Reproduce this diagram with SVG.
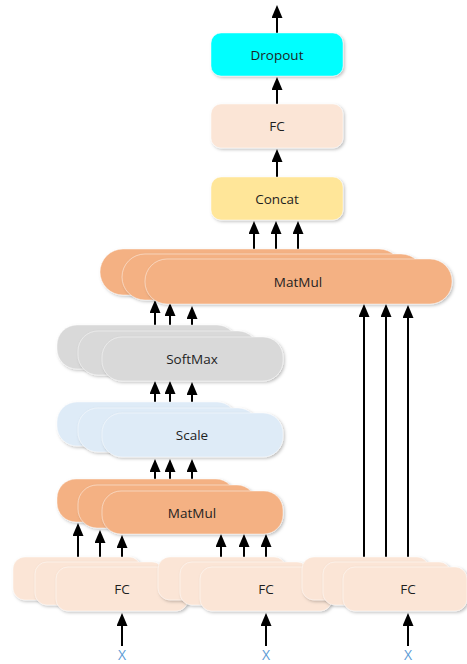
<svg xmlns="http://www.w3.org/2000/svg" width="467" height="664" viewBox="0 0 467 664">
  <defs>
    <marker id="arrow" viewBox="0 0 13 11" refX="1" refY="5.5" markerWidth="13" markerHeight="11" markerUnits="userSpaceOnUse" orient="auto">
      <path d="M0,0 L13,5.5 L0,11 z" fill="#000"/>
    </marker>
    <filter id="shadow" x="-10%" y="-20%" width="125%" height="150%">
      <feDropShadow dx="1.5" dy="1.5" stdDeviation="1.5" flood-color="#000" flood-opacity="0.25"/>
    </filter>
  </defs>
  <style>
    .box { filter: url(#shadow); stroke: #ffffff; stroke-opacity: 0.45; stroke-width: 1; }
    .dropout { fill: #00FFFF; }
    .fc { fill: #FBE5D6; }
    .concat { fill: #FFE699; }
    .matmul { fill: #F4B183; }
    .softmax { fill: #D9D9D9; }
    .scale { fill: #DEEBF7; }
    .label { font-family: "Open Sans", "Noto Sans", sans-serif; font-size: 13.5px; fill: #1f1f1f; text-anchor: middle; dominant-baseline: central; }
    .input { font-family: "Open Sans", "Noto Sans", sans-serif; font-size: 14px; fill: #5B9BD5; text-anchor: middle; }
    .edge { stroke: #000; stroke-width: 2; fill: none; marker-end: url(#arrow); }
  </style>

  <!-- connectors (line end sits 12px below each arrow tip) -->
  <g id="connectors">
    <path class="edge" d="M277,33 V17"/>
    <path class="edge" d="M277,104 V89"/>
    <path class="edge" d="M277,177 V161"/>
    <path class="edge" d="M254,249 V233"/>
    <path class="edge" d="M276,254 V233"/>
    <path class="edge" d="M298,259 V233"/>
    <path class="edge" d="M155,325 V312"/>
    <path class="edge" d="M170,331 V315"/>
    <path class="edge" d="M192,337 V318"/>
    <path class="edge" d="M155,402 V393"/>
    <path class="edge" d="M170,408 V393"/>
    <path class="edge" d="M192,413 V394"/>
    <path class="edge" d="M155,479 V471"/>
    <path class="edge" d="M170,485 V471"/>
    <path class="edge" d="M192,491 V471"/>
    <path class="edge" d="M78,557 V535"/>
    <path class="edge" d="M100,562 V542"/>
    <path class="edge" d="M122,567 V547"/>
    <path class="edge" d="M221,557 V546"/>
    <path class="edge" d="M244,562 V546"/>
    <path class="edge" d="M266,567 V546"/>
    <path class="edge" d="M364,557 V316"/>
    <path class="edge" d="M386,562 V316"/>
    <path class="edge" d="M408,567 V317"/>
    <path class="edge" d="M122,646 V625"/>
    <path class="edge" d="M266,646 V625"/>
    <path class="edge" d="M408,646 V625"/>
  </g>

  <g id="dropout">
    <rect class="box dropout" x="211" y="33" width="132" height="43" rx="10"/>
    <text class="label" x="277" y="55">Dropout</text>
  </g>
  <g id="fc-out">
    <rect class="box fc" x="211" y="104" width="132" height="44" rx="10"/>
    <text class="label" x="277" y="126">FC</text>
  </g>
  <g id="concat">
    <rect class="box concat" x="211" y="177" width="132" height="43" rx="10"/>
    <text class="label" x="277" y="199">Concat</text>
  </g>

  <g id="matmul-out">
    <rect class="box matmul" x="100" y="249" width="302" height="46" rx="23"/>
    <rect class="box matmul" x="122" y="254" width="302" height="46" rx="23"/>
    <rect class="box matmul" x="145" y="259" width="307" height="45" rx="22"/>
    <text class="label" x="298" y="282">MatMul</text>
  </g>

  <g id="softmax">
    <rect class="box softmax" x="57" y="325" width="180" height="44" rx="20"/>
    <rect class="box softmax" x="78" y="331" width="180" height="44" rx="20"/>
    <rect class="box softmax" x="102" y="337" width="181" height="44" rx="20"/>
    <text class="label" x="192" y="359">SoftMax</text>
  </g>

  <g id="scale">
    <rect class="box scale" x="57" y="402" width="180" height="44" rx="20"/>
    <rect class="box scale" x="78" y="408" width="180" height="44" rx="20"/>
    <rect class="box scale" x="102" y="413" width="181" height="44" rx="20"/>
    <text class="label" x="192" y="435">Scale</text>
  </g>

  <g id="matmul-qk">
    <rect class="box matmul" x="57" y="479" width="178" height="43" rx="19"/>
    <rect class="box matmul" x="78" y="485" width="178" height="43" rx="19"/>
    <rect class="box matmul" x="102" y="491" width="181" height="43" rx="19"/>
    <text class="label" x="192" y="513">MatMul</text>
  </g>

  <g id="fc-q">
    <rect class="box fc" x="13" y="557" width="128" height="43" rx="12"/>
    <rect class="box fc" x="35" y="562" width="129" height="43" rx="12"/>
    <rect class="box fc" x="56" y="567" width="132" height="44" rx="12"/>
    <text class="label" x="122" y="589">FC</text>
  </g>
  <g id="fc-k">
    <rect class="box fc" x="158" y="557" width="128" height="43" rx="12"/>
    <rect class="box fc" x="180" y="562" width="129" height="43" rx="12"/>
    <rect class="box fc" x="200" y="567" width="132" height="44" rx="12"/>
    <text class="label" x="266" y="589">FC</text>
  </g>
  <g id="fc-v">
    <rect class="box fc" x="302" y="557" width="127" height="43" rx="12"/>
    <rect class="box fc" x="323" y="562" width="128" height="43" rx="12"/>
    <rect class="box fc" x="343" y="567" width="124" height="44" rx="12"/>
    <text class="label" x="408" y="589">FC</text>
  </g>

  <g id="inputs">
    <text class="input" x="122" y="660">X</text>
    <text class="input" x="266" y="660">X</text>
    <text class="input" x="408" y="660">X</text>
  </g>
</svg>
